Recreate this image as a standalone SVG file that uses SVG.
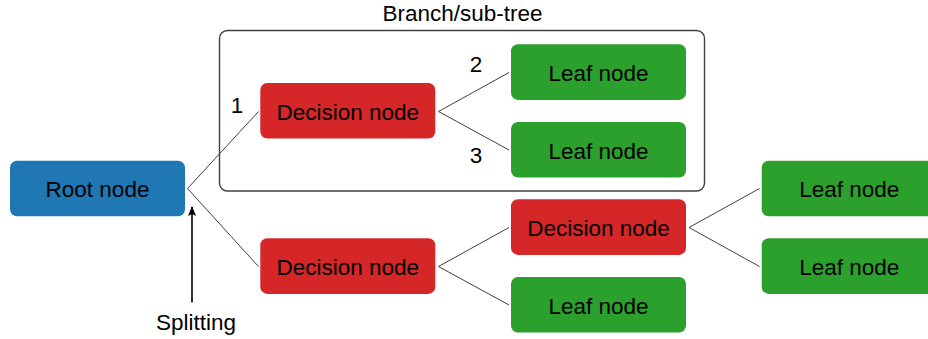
<svg xmlns="http://www.w3.org/2000/svg" width="928" height="339" viewBox="0 0 928 339">
<style>
text{font-family:"Liberation Sans",Arial,sans-serif;font-size:22.5px;fill:#000;text-anchor:middle}
.root{fill:#1f77b4}
.dec{fill:#d62728}
.leaf{fill:#2ca02c}
.edge{stroke:#404040;stroke-width:1;fill:none}
.branch{stroke:#404040;stroke-width:1.4;fill:none}
</style>
<defs>
<marker id="arr" viewBox="0 0 10 10" refX="9" refY="5" markerWidth="10" markerHeight="10" markerUnits="userSpaceOnUse" orient="auto">
<path d="M0,1 L10,5 L0,9 L2,5 Z" fill="#000"/>
</marker>
</defs>
<g id="branch">
<rect class="branch" x="219.5" y="30.5" width="485" height="160.5" rx="8"/>
<text x="462.5" y="21">Branch/sub-tree</text>
</g>
<g id="connectors">
<line class="edge" x1="187.5" y1="188.5" x2="258.5" y2="111.5"/>
<line class="edge" x1="187.5" y1="188.5" x2="258.5" y2="266.5"/>
<line class="edge" x1="438.5" y1="111.5" x2="509" y2="72.5"/>
<line class="edge" x1="438.5" y1="111.5" x2="509" y2="150"/>
<line class="edge" x1="438.5" y1="266.5" x2="509" y2="227.5"/>
<line class="edge" x1="438.5" y1="266.5" x2="509" y2="305"/>
<line class="edge" x1="689" y1="227.5" x2="759.5" y2="188.5"/>
<line class="edge" x1="689" y1="227.5" x2="759.5" y2="266.5"/>
<line x1="192" y1="302.5" x2="192" y2="207" stroke="#000" stroke-width="1.6" marker-end="url(#arr)"/>
<text x="237" y="113">1</text>
<text x="476" y="71.5">2</text>
<text x="476" y="162.5">3</text>
<text x="196" y="330">Splitting</text>
</g>
<g id="root">
<rect class="root" x="10" y="160.7" width="175" height="55.6" rx="7"/>
<text x="97.5" y="197">Root node</text>
</g>
<g id="decision1">
<rect class="dec" x="260.3" y="83" width="175" height="55.6" rx="7"/>
<text x="347.8" y="119.5">Decision node</text>
</g>
<g id="decision2">
<rect class="dec" x="260.3" y="238.3" width="175" height="55.6" rx="7"/>
<text x="347.8" y="274.8">Decision node</text>
</g>
<g id="leaf1">
<rect class="leaf" x="511" y="44.3" width="175" height="55.6" rx="7"/>
<text x="598.5" y="80.8">Leaf node</text>
</g>
<g id="leaf2">
<rect class="leaf" x="511" y="122" width="175" height="55.6" rx="7"/>
<text x="598.5" y="158.5">Leaf node</text>
</g>
<g id="decision3">
<rect class="dec" x="511" y="199.3" width="175" height="55.6" rx="7"/>
<text x="598.5" y="235.8">Decision node</text>
</g>
<g id="leaf3">
<rect class="leaf" x="511" y="277" width="175" height="55.6" rx="7"/>
<text x="598.5" y="313.5">Leaf node</text>
</g>
<g id="leaf4">
<rect class="leaf" x="761.7" y="160.7" width="175" height="55.6" rx="7"/>
<text x="849.2" y="197">Leaf node</text>
</g>
<g id="leaf5">
<rect class="leaf" x="761.7" y="238.3" width="175" height="55.6" rx="7"/>
<text x="849.2" y="274.8">Leaf node</text>
</g>
</svg>
